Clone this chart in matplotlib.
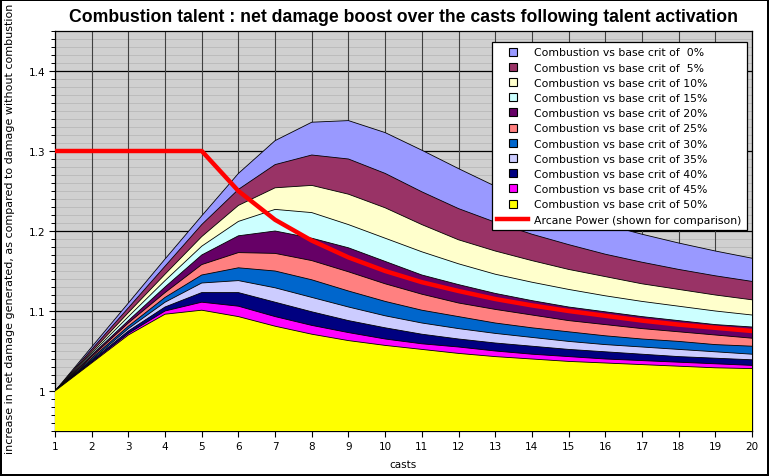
import matplotlib
matplotlib.use('Agg')
import matplotlib.pyplot as plt
from matplotlib.patches import Rectangle, Patch
from matplotlib.lines import Line2D
from matplotlib.legend_handler import HandlerPatch
from matplotlib.ticker import MultipleLocator, FuncFormatter

casts = list(range(1, 21))

# values (damage multiplier vs. no combustion)
crit_0 = [1.000, 1.055, 1.110, 1.165, 1.219, 1.272, 1.313, 1.336, 1.338, 1.323,
          1.301, 1.278, 1.256, 1.238, 1.222, 1.208, 1.196, 1.185, 1.175, 1.166]
crit_5 = [1.000, 1.052, 1.104, 1.156, 1.208, 1.252, 1.283, 1.295, 1.290, 1.272,
          1.249, 1.228, 1.211, 1.196, 1.183, 1.171, 1.161, 1.152, 1.144, 1.137]
crit_10 = [1.000, 1.049, 1.098, 1.146, 1.193, 1.232, 1.254, 1.257, 1.246, 1.229,
           1.208, 1.189, 1.175, 1.163, 1.152, 1.143, 1.134, 1.127, 1.120, 1.114]
crit_15 = [1.000, 1.047, 1.093, 1.138, 1.181, 1.212, 1.227, 1.223, 1.208, 1.191,
           1.174, 1.159, 1.146, 1.136, 1.127, 1.119, 1.112, 1.106, 1.100, 1.095]
crit_20 = [1.000, 1.045, 1.088, 1.130, 1.170, 1.194, 1.200, 1.191, 1.179, 1.162,
           1.145, 1.133, 1.122, 1.113, 1.105, 1.099, 1.093, 1.088, 1.083, 1.080]
crit_25 = [1.000, 1.043, 1.085, 1.123, 1.158, 1.173, 1.172, 1.163, 1.149, 1.134,
           1.121, 1.110, 1.102, 1.095, 1.088, 1.083, 1.078, 1.074, 1.070, 1.066]
crit_30 = [1.000, 1.041, 1.081, 1.117, 1.145, 1.154, 1.150, 1.139, 1.125, 1.112,
           1.101, 1.093, 1.085, 1.079, 1.074, 1.069, 1.065, 1.062, 1.058, 1.056]
crit_35 = [1.000, 1.039, 1.078, 1.111, 1.135, 1.138, 1.129, 1.117, 1.105, 1.094,
           1.085, 1.078, 1.072, 1.067, 1.062, 1.058, 1.055, 1.052, 1.049, 1.046]
crit_40 = [1.000, 1.038, 1.075, 1.105, 1.123, 1.123, 1.111, 1.099, 1.088, 1.079,
           1.071, 1.065, 1.060, 1.056, 1.052, 1.049, 1.046, 1.043, 1.041, 1.039]
crit_45 = [1.000, 1.036, 1.072, 1.100, 1.111, 1.106, 1.093, 1.082, 1.073, 1.065,
           1.059, 1.055, 1.050, 1.046, 1.043, 1.040, 1.038, 1.036, 1.034, 1.032]
crit_50 = [1.000, 1.035, 1.070, 1.096, 1.101, 1.093, 1.081, 1.071, 1.063, 1.057,
           1.052, 1.047, 1.043, 1.040, 1.037, 1.035, 1.033, 1.031, 1.029, 1.028]

arcane_power = [1.300, 1.300, 1.300, 1.300, 1.300, 1.250, 1.214, 1.188, 1.167, 1.150,
                1.136, 1.125, 1.115, 1.107, 1.100, 1.094, 1.088, 1.083, 1.079, 1.075]

crit_levels = [' 0%', ' 5%', '10%', '15%', '20%', '25%', '30%', '35%', '40%', '45%', '50%']
series = [crit_0, crit_5, crit_10, crit_15, crit_20, crit_25,
          crit_30, crit_35, crit_40, crit_45, crit_50]
colors = ['#9999FF', '#993366', '#FFFFCC', '#CCFFFF', '#660066', '#FF8080',
          '#0066CC', '#CCCCFF', '#000080', '#FF00FF', '#FFFF00']

fig = plt.figure(figsize=(7.69, 4.77), dpi=100)
fig.patch.set_edgecolor('black')
fig.patch.set_linewidth(1.5)
ax = fig.add_axes([55 / 769, 1 - 432 / 477, 697 / 769, 400 / 477])
ax.set_facecolor('#d0d0d0')

y_bottom = 0.95
z = 3
for vals, col in zip(series, colors):
    ax.fill_between(casts, y_bottom, vals, facecolor=col, linewidth=0, zorder=z)
    ax.plot(casts, vals, color='black', linewidth=0.6, zorder=z + 0.5)
    z += 1

ax.plot(casts, arcane_power, color='#FF0000', linewidth=3.2, zorder=z + 1,
        solid_capstyle='round', solid_joinstyle='round')

ax.set_xlim(1, 20)
ax.set_ylim(0.95, 1.45)
ax.set_xticks(casts)
ax.yaxis.set_major_locator(MultipleLocator(0.1))
ax.yaxis.set_minor_locator(MultipleLocator(0.01))
ax.yaxis.set_major_formatter(FuncFormatter(lambda v, p: '%g' % round(v, 2)))

# excel style grid
ax.grid(True, which='minor', axis='y', color='#bcbcbc', linewidth=0.7)
ax.grid(True, which='major', axis='y', color='black', linewidth=0.9)
ax.grid(True, which='major', axis='x', color='#404040', linewidth=0.8)
ax.set_axisbelow(True)
ax.yaxis.set_zorder(0.5)
ax.xaxis.set_zorder(0.8)  # vertical lines over the light minor lines

ax.tick_params(axis='both', which='major', labelsize=7.5, length=4, width=0.8,
               direction='out', pad=3)
ax.tick_params(axis='y', which='minor', length=3, width=0.7, direction='out')
for s in ax.spines.values():
    s.set_color('black')
    s.set_linewidth(0.9)

ax.set_xlabel('casts', fontsize=7.5, labelpad=6)
fig.text(10 / 769, 1 - 229 / 477,
         'increase in net damage generated, as compared to damage without combustion',
         rotation=90, ha='center', va='center', fontsize=8.05)
fig.text(0.5245, 1 - 17 / 477,
         'Combustion talent : net damage boost over the casts following talent activation',
         ha='center', va='center', fontsize=12.7, fontweight='bold',
         family='Liberation Sans')


def square_patch(legend, orig_handle, xdescent, ydescent, width, height, fontsize):
    s = height * 1.05
    return Rectangle((-xdescent + (width - s) / 2, -ydescent + (height - s) / 2), s, s)


handles = [Patch(facecolor=c, edgecolor='black', linewidth=0.8) for c in colors]
labels = ['Combustion vs base crit of ' + c for c in crit_levels]
handles.append(Line2D([0], [0], color='#FF0000', linewidth=3.2))
labels.append('Arcane Power (shown for comparison)')

leg = ax.legend(handles, labels, loc='upper left',
                bbox_to_anchor=(492 / 769, 1 - 43 / 477), bbox_transform=fig.transFigure,
                fontsize=7.8, frameon=True, fancybox=False, framealpha=1,
                edgecolor='black', borderpad=0.5, labelspacing=0.48,
                handlelength=2.8, handletextpad=0.55, borderaxespad=0,
                handler_map={Patch: HandlerPatch(patch_func=square_patch)})
leg.get_frame().set_linewidth(0.9)
leg.set_zorder(50)

fig.savefig('out.png', dpi=100, edgecolor=fig.get_edgecolor())
